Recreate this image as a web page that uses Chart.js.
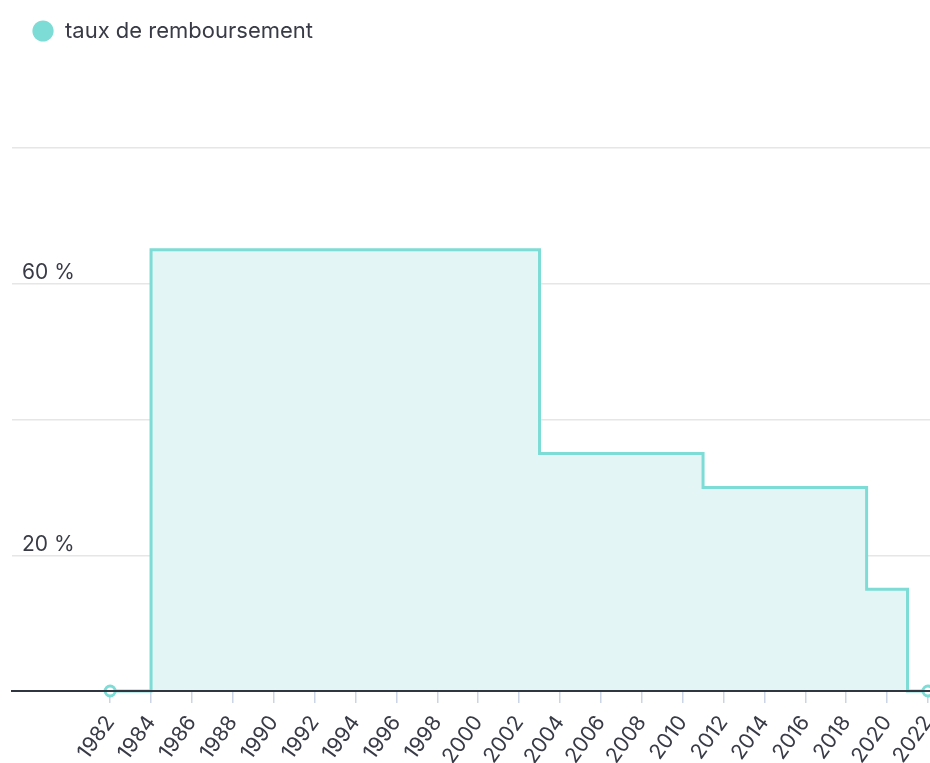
<!DOCTYPE html>
<html lang="fr">
<head>
<meta charset="utf-8">
<title>Taux de remboursement</title>
<script src="https://cdn.jsdelivr.net/npm/chart.js@4.4.1/dist/chart.umd.min.js"></script>
<style>
  html, body { margin: 0; padding: 0; background: #ffffff; overflow: hidden; }
  #wrap { width: 930px; height: 763px; position: relative; }
  #chart { display: block; }
</style>
</head>
<body>
<div id="wrap"><canvas id="chart"></canvas></div>
<script>
// Reimbursement rate (%) by year; each value holds until the next change
const seriesName = 'taux de remboursement';
const years = [1982, 1984, 2003, 2011, 2019, 2021, 2022];
const rates = [0, 65, 35, 30, 15, 0, 0];
const yearTicks = [1982, 1984, 1986, 1988, 1990, 1992, 1994, 1996, 1998, 2000, 2002,
  2004, 2006, 2008, 2010, 2012, 2014, 2016, 2018, 2020, 2022];

const teal = '#7ddcd5';
const textColor = '#383b46';
const fontFamily = 'Inter, "Open Sans", sans-serif';

// extra room below the legend
const legendSpacer = {
  id: 'legendSpacer',
  beforeInit(chart) {
    const fit = chart.legend.fit;
    chart.legend.fit = function () {
      fit.call(this);
      this.height += 96;
    };
  }
};

// let the plot run to the right edge of the canvas; the last year label may be cut
const fullWidth = {
  id: 'fullWidth',
  afterLayout(chart) {
    const dx = chart.width - chart.chartArea.right;
    if (dx <= 0) return;
    chart.chartArea.right += dx;
    chart.chartArea.width += dx;
    const x = chart.scales.x;
    x.right += dx;
    x.width += dx;
    x.configure();
  }
};

new Chart(document.getElementById('chart'), {
  type: 'line',
  data: {
    datasets: [{
      label: seriesName,
      data: years.map((y, i) => ({ x: y, y: rates[i] })),
      stepped: 'before',
      borderColor: teal,
      borderWidth: 3,
      backgroundColor: '#e4f5f5',
      fill: 'origin',
      pointRadius: ctx => (ctx.dataIndex === 0 || ctx.dataIndex === years.length - 1) ? 5 : 0,
      pointHoverRadius: 5,
      pointBackgroundColor: '#ffffff',
      pointBorderColor: teal,
      pointBorderWidth: 3
    }]
  },
  options: {
    responsive: true,
    maintainAspectRatio: false,
    animation: false,
    clip: false,
    layout: { padding: { left: 12, right: 0, top: 0, bottom: 0 } },
    plugins: {
      legend: {
        position: 'top',
        align: 'start',
        labels: {
          usePointStyle: true,
          pointStyle: 'circle',
          boxWidth: 22,
          boxHeight: 15,
          color: textColor,
          font: { family: fontFamily, size: 22 },
          padding: 20,
          generateLabels: chart => Chart.defaults.plugins.legend.labels.generateLabels(chart)
            .map(item => Object.assign(item, { fillStyle: teal, strokeStyle: teal, lineWidth: 0 }))
        }
      },
      tooltip: { enabled: false }
    },
    scales: {
      x: {
        type: 'linear',
        min: 1977.2,
        max: 2022.1,
        afterBuildTicks: axis => { axis.ticks = yearTicks.map(v => ({ value: v })); },
        afterFit: axis => { axis.paddingRight = 0; axis.paddingLeft = 0; axis.height = 72; },
        ticks: {
          autoSkip: false,
          minRotation: 54,
          maxRotation: 54,
          color: textColor,
          font: { family: fontFamily, size: 21 },
          padding: 8,
          callback: v => String(v)
        },
        grid: {
          drawOnChartArea: false,
          drawTicks: true,
          tickLength: 12,
          color: '#cbd5e6',
          lineWidth: 1.5
        },
        border: { display: true, color: '#2f3640', width: 2, z: 1 }
      },
      y: {
        min: 0,
        max: 80,
        afterFit: axis => { axis.width = 0; },
        ticks: {
          stepSize: 20,
          mirror: true,
          padding: 10,
          labelOffset: -11,
          color: textColor,
          font: { family: fontFamily, size: 21 },
          callback: (v, i) => (i % 2 === 1 ? v + ' %' : '')
        },
        grid: { drawTicks: false, color: '#e6e6e6', lineWidth: 1.5 },
        border: { display: false }
      }
    }
  },
  plugins: [legendSpacer, fullWidth]
});
</script>
</body>
</html>
